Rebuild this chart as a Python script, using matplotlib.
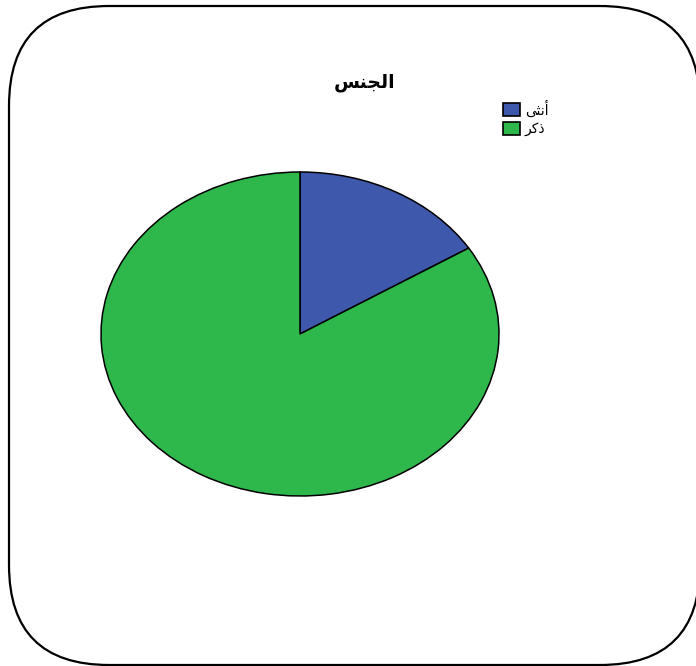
import matplotlib
matplotlib.use("Agg")
import matplotlib.pyplot as plt
from matplotlib.patches import FancyBboxPatch, Rectangle

# Arabic strings in pre-shaped presentation forms (visual left-to-right order)
title = "\uFEB2\uFEE8\uFEA0\uFEDF\uFE8D"          # الجنس
categories = ["\uFEF0\uFE9C\uFEE7\uFE83",          # أنثى
              "\uFEAE\uFEDB\uFEAB"]                # ذكر
values = [16.1, 83.9]
colors = ["#3E58AC", "#2EB84B"]

W, H = 696, 666
fig = plt.figure(figsize=(W / 100, H / 100), dpi=100)
fig.patch.set_facecolor("white")

# Full-figure overlay in pixel coordinates for frame, title and legend
bg = fig.add_axes([0, 0, 1, 1])
bg.set_xlim(0, W)
bg.set_ylim(H, 0)
bg.axis("off")
frame = FancyBboxPatch((9, 6), 691, 659,
                       boxstyle="round,pad=0,rounding_size=100",
                       facecolor="white", edgecolor="black", linewidth=1.6)
bg.add_patch(frame)

bg.text(365, 82, title, ha="center", va="center", fontsize=13.5,
        fontweight="bold", family=["DejaVu Sans"])

for i, (lab, col) in enumerate(zip(categories, colors)):
    y0 = 103 + i * 19
    bg.add_patch(Rectangle((503, y0), 17, 13, facecolor=col,
                           edgecolor="black", linewidth=1.2))
    bg.text(525, y0 + 6.5, lab, ha="left", va="center", fontsize=10,
            family=["DejaVu Sans"])

# Pie drawn in an axes whose box is the ellipse bounds
left, right, top, bottom = 101, 499, 172, 496
ax = fig.add_axes([left / W, (H - bottom) / H,
                   (right - left) / W, (bottom - top) / H])
ax.pie(values, colors=colors, startangle=90, counterclock=False,
       radius=1, wedgeprops=dict(edgecolor="black", linewidth=1.1))
ax.set_aspect("auto")
ax.set_xlim(-1, 1)
ax.set_ylim(-1, 1)
ax.axis("off")

fig.savefig("out.png", dpi=100)
